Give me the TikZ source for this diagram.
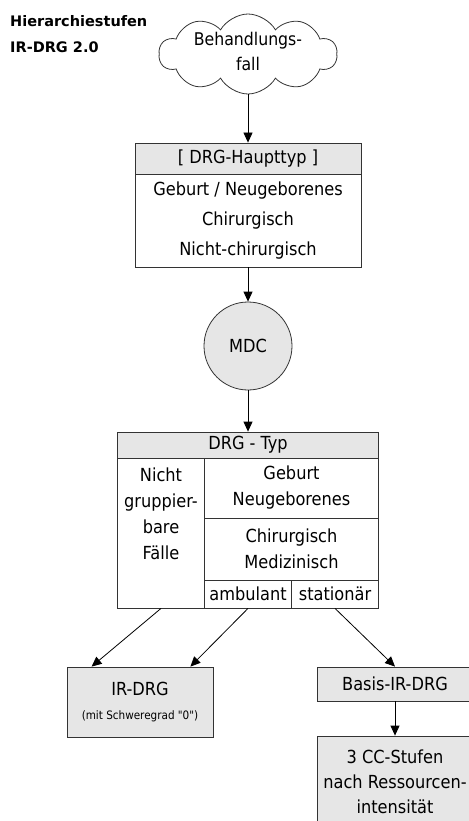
\documentclass[tikz,border=0pt]{standalone}
\usepackage{fontspec}
\setmainfont{DejaVu Sans Condensed}
\newfontfamily\headfont{DejaVu Sans}
\usetikzlibrary{shapes.symbols, arrows.meta}
\definecolor{boxgray}{HTML}{E6E6E6}
\tikzset{
  cell/.style={draw=black!80, line width=0.8pt, inner sep=0pt, align=center,
    font=\fontsize{18}{26}\selectfont},
  grey cell/.style={cell, fill=boxgray},
  flow/.style={draw=black, line width=0.8pt, -{Triangle[length=10pt, width=9pt]}},
}

\begin{document}
\begin{tikzpicture}[x=1pt, y=-1pt]
\useasboundingbox (0,0) rectangle (468,821);
\node[anchor=west, align=left, inner sep=0pt, font=\headfont\bfseries\fontsize{14.5}{26}\selectfont] (title) at (10,34) {Hierarchiestufen\\IR-DRG 2.0};
\node[cloud, cloud puffs=10, cloud puff arc=120, cloud ignores aspect, cell, minimum width=178pt, minimum height=80pt] (fall) at (248,54) {};
\node[align=center, font=\fontsize{17.5}{25}\selectfont] (falltext) at (248,51) {Behandlungs-\\fall};
% Haupttyp
\node[grey cell, minimum width=226pt, minimum height=31pt] (haupt) at (248,158.5) {[ DRG-Haupttyp ]};
\node[cell, minimum width=226pt, minimum height=93pt, font=\fontsize{18}{30}\selectfont] (hauptlist) at (248,220.5) {Geburt / Neugeborenes\\Chirurgisch\\Nicht-chirurgisch};
\node[circle, grey cell, minimum size=88pt] (mdc) at (248,346) {MDC};
% DRG-Typ
\node[grey cell, minimum width=261pt, minimum height=26pt] (typ) at (248,445) {DRG - Typ};
\node[cell, minimum width=87pt, minimum height=150pt] (ngf) at (161,533) {};
\node[align=center, font=\fontsize{18}{26}\selectfont] (ngftext) at (161,514) {Nicht\\gruppier-\\bare\\Fälle};
\node[cell, minimum width=174pt, minimum height=60pt] (geb) at (291.5,488) {Geburt\\Neugeborenes};
\node[cell, minimum width=174pt, minimum height=62pt] (chir) at (291.5,549) {Chirurgisch\\Medizinisch};
\node[cell, minimum width=87pt, minimum height=28pt] (amb) at (248,594) {ambulant};
\node[cell, minimum width=87pt, minimum height=28pt] (stat) at (335,594) {stationär};
% Ergebnis
\node[grey cell, minimum width=146pt, minimum height=70pt] (irdrg) at (140,702) {IR-DRG\\[-2pt]{\fontsize{11.6}{15}\selectfont (mit Schweregrad \textquotedbl0\textquotedbl)}};
\node[grey cell, minimum width=156pt, minimum height=34pt] (basis) at (395,684) {Basis-IR-DRG};
\node[grey cell, minimum width=156pt, minimum height=92pt, font=\fontsize{18}{25}\selectfont] (cc) at (395,782) {3 CC-Stufen\\nach Ressourcen-\\intensität};

\draw[flow] (fall.south) -- (haupt.north);
\draw[flow] (hauptlist.south) -- (mdc.north);
\draw[flow] (mdc.south) -- (typ.north);
\draw[flow] (ngf.south) -- ([xshift=25pt]irdrg.north west);
\draw[flow] (amb.south) -- ([xshift=-23pt]irdrg.north east);
\draw[flow] (stat.south) -- (basis.north);
\draw[flow] (basis.south) -- (cc.north);
\end{tikzpicture}
\end{document}
